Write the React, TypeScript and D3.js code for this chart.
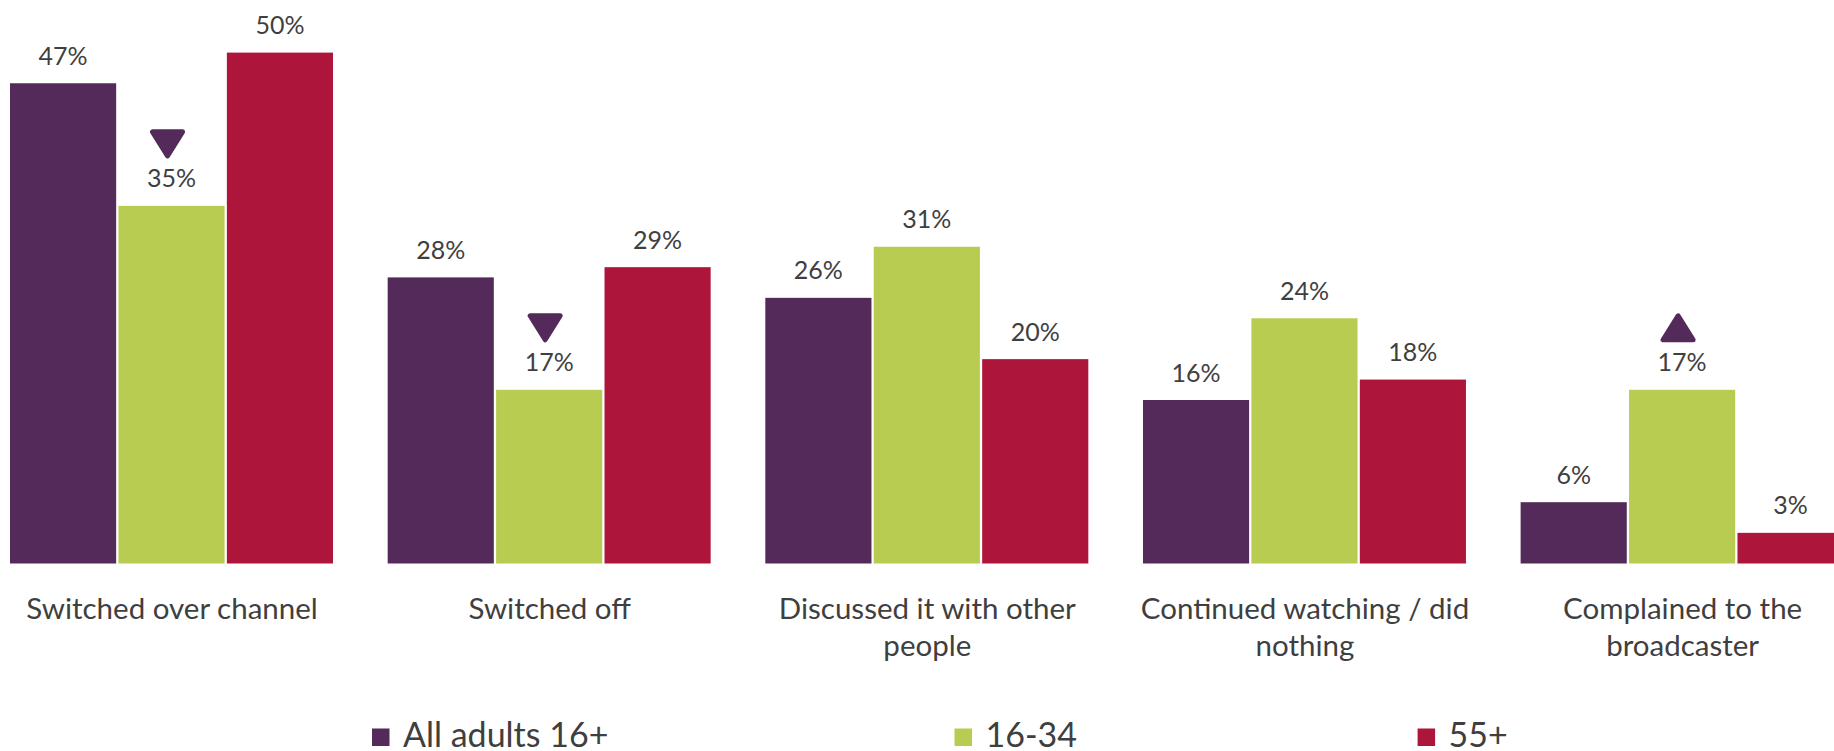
import React from "react";
import * as d3 from "d3";

const categories: string[][] = [
  ["Switched over channel"],
  ["Switched off"],
  ["Discussed it with other", "people"],
  ["Continued watching / did", "nothing"],
  ["Complained to the", "broadcaster"],
];
const seriesNames = ["All adults 16+", "16-34", "55+"];
const allAdults = [47, 28, 26, 16, 6];
const age16to34 = [35, 17, 31, 24, 17];
const age55plus = [50, 29, 20, 18, 3];
// significance markers: [category index, series index, direction]
const sigMarkers: [number, number, "down" | "up"][] = [
  [0, 1, "down"],
  [1, 1, "down"],
  [4, 1, "up"],
];

const colors = ["#532A59", "#B8CC52", "#AD163A"];
const W = 1834;
const H = 751;
const FONT = "Lato, 'Open Sans', sans-serif";
const TEXT = "#3F3F3F";

export default function App() {
  const series = [allAdults, age16to34, age55plus];
  const idx = categories.map((_, i) => i);
  const x0 = d3
    .scaleBand<number>()
    .domain(idx)
    .range([-16.8, 1871.45])
    .paddingInner(0.142)
    .paddingOuter(0.071);
  const x1 = d3
    .scaleBand<number>()
    .domain([0, 1, 2])
    .range([0, 323])
    .paddingInner(0.021);
  const y = d3.scaleLinear().domain([0, 50]).range([563.5, 52.6]);

  const legendX = [372, 954.5, 1417.6];

  const tri = (cx: number, by: number, dir: "down" | "up") => {
    const w = 30;
    const h = 24;
    if (dir === "down") {
      const top = by - h;
      return `M${cx - w / 2},${top} L${cx + w / 2},${top} L${cx},${by} Z`;
    }
    const top = by - h;
    return `M${cx - w / 2},${by} L${cx + w / 2},${by} L${cx},${top} Z`;
  };

  return (
    <svg
      width={W}
      height={H}
      style={{ position: "absolute", left: 0, top: 0, background: "#fff" }}
      fontFamily={FONT}
    >
      {idx.map((ci) => (
        <g key={ci} transform={`translate(${x0(ci)},0)`}>
          {series.map((s, si) => (
            <rect
              key={si}
              x={x1(si)}
              y={y(s[ci])}
              width={x1.bandwidth()}
              height={y(0) - y(s[ci])}
              fill={colors[si]}
            />
          ))}
          {series.map((s, si) => (
            <text
              key={"t" + si}
              x={(x1(si) as number) + x1.bandwidth() / 2}
              y={y(s[ci]) - 18.5}
              textAnchor="middle"
              fontSize={25}
              fill={TEXT}
            >
              {s[ci]}%
            </text>
          ))}
          <text
            textAnchor="middle"
            fontSize={29.5}
            fill={TEXT}
          >
            {categories[ci].map((line, li) => (
              <tspan key={li} x={x0.bandwidth() / 2} y={619 + li * 37}>
                {line}
              </tspan>
            ))}
          </text>
        </g>
      ))}
      {sigMarkers.map(([ci, si, dir], k) => {
        const cx =
          (x0(ci) as number) + (x1(si) as number) + x1.bandwidth() / 2 - 4;
        const by = y(series[si][ci]) - 50;
        return (
          <path
            key={k}
            d={tri(cx, by, dir)}
            fill={colors[0]}
            stroke={colors[0]}
            strokeWidth={5}
            strokeLinejoin="round"
          />
        );
      })}
      {seriesNames.map((name, i) => (
        <g key={name} transform={`translate(${legendX[i]},0)`}>
          <rect x={0} y={728.5} width={17.5} height={17.5} fill={colors[i]} />
          <text x={31} y={747} fontSize={34} fill={TEXT}>
            {name}
          </text>
        </g>
      ))}
    </svg>
  );
}
